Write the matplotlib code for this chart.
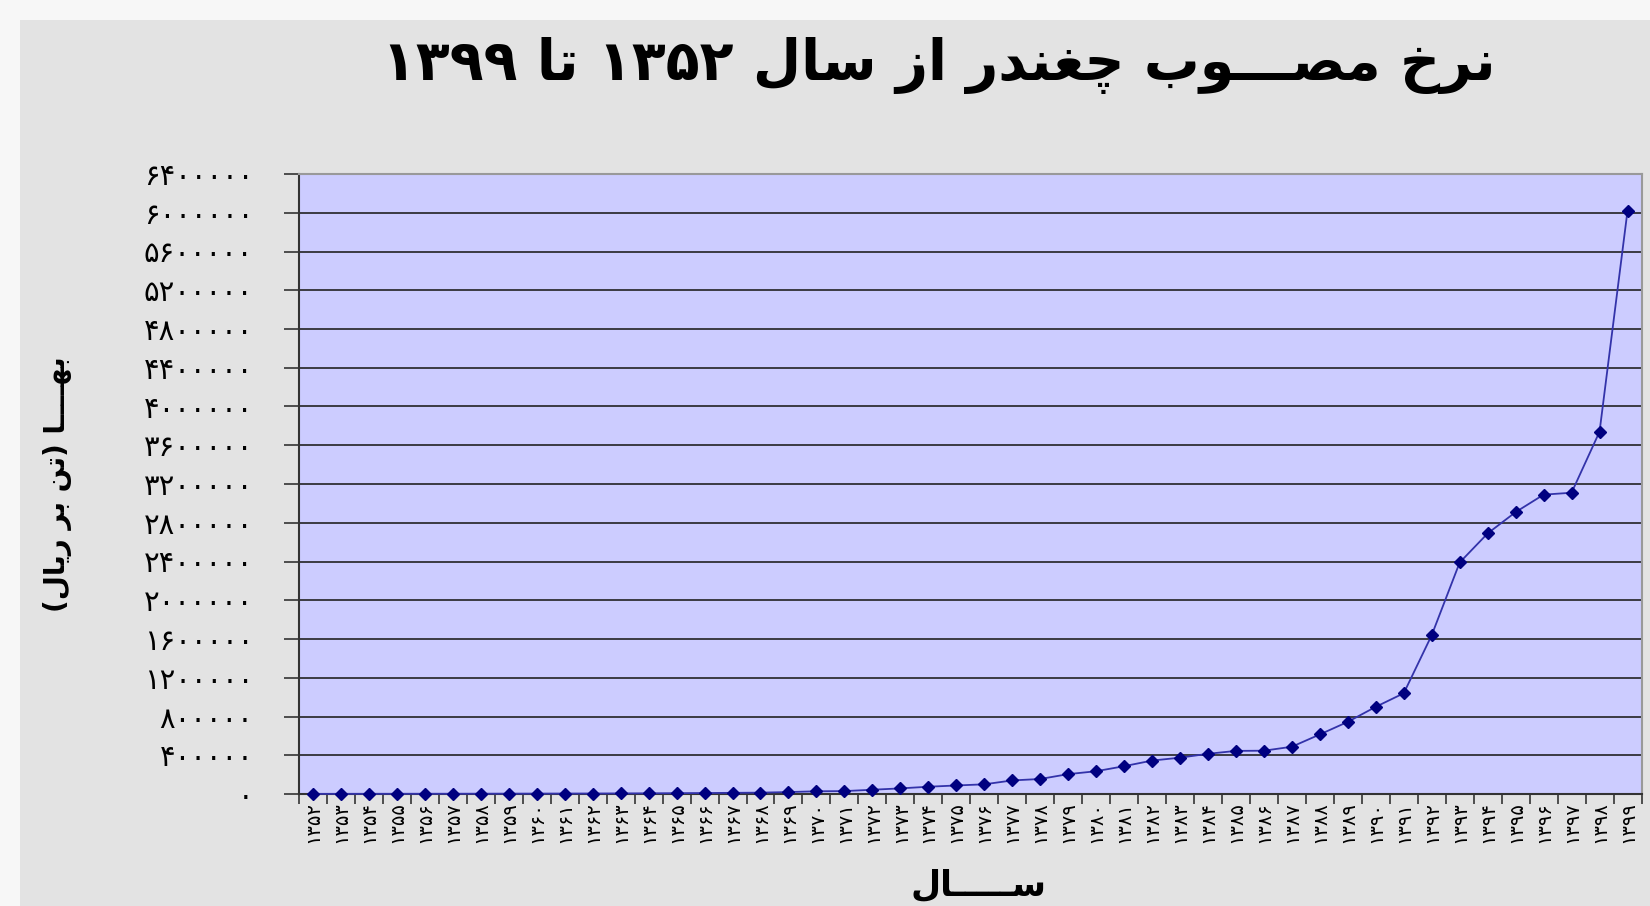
import matplotlib
matplotlib.use('Agg')
import matplotlib.pyplot as plt
from matplotlib.patches import Rectangle
from matplotlib.ticker import FixedLocator

# --- data -----------------------------------------------------------------
years = list(range(1352, 1400))
price = [1200, 1500, 1800, 2000, 2300, 2500, 3000, 3500, 4000, 4500,
         5000, 6000, 7000, 8500, 10000, 12000, 14000, 20000, 28000, 30000,
         44000, 58000, 75000, 88000, 100000, 140000, 155000, 205000, 235000, 287000,
         345000, 375000, 415000, 445000, 447000, 488000, 615000, 745000, 900000, 1040000,
         1640000, 2390000, 2690000, 2910000, 3090000, 3110000, 3740000, 6020000]
yticks = list(range(0, 6400001, 400000))

title_txt = 'نرخ مصـــوب چغندر از سال ۱۳۵۲ تا ۱۳۹۹'
ylabel_txt = 'بهــــا (تن بر ریال)'
xlabel_txt = 'ســـــال'

# --- tiny arabic shaper (matplotlib 3.10 does no shaping / bidi) ----------
# letter: (isolated, final, initial, medial) ; right-joining letters have 2 forms
FORMS = {
    'ا': (0xFE8D, 0xFE8E), 'ب': (0xFE8F, 0xFE90, 0xFE91, 0xFE92),
    'ت': (0xFE95, 0xFE96, 0xFE97, 0xFE98), 'خ': (0xFEA5, 0xFEA6, 0xFEA7, 0xFEA8),
    'د': (0xFEA9, 0xFEAA), 'ر': (0xFEAD, 0xFEAE), 'ز': (0xFEAF, 0xFEB0),
    'س': (0xFEB1, 0xFEB2, 0xFEB3, 0xFEB4), 'ص': (0xFEB9, 0xFEBA, 0xFEBB, 0xFEBC),
    'غ': (0xFECD, 0xFECE, 0xFECF, 0xFED0), 'ل': (0xFEDD, 0xFEDE, 0xFEDF, 0xFEE0),
    'م': (0xFEE1, 0xFEE2, 0xFEE3, 0xFEE4), 'ن': (0xFEE5, 0xFEE6, 0xFEE7, 0xFEE8),
    'ه': (0xFEE9, 0xFEEA, 0xFEEB, 0xFEEC), 'و': (0xFEED, 0xFEEE),
    'چ': (0xFB7A, 0xFB7B, 0xFB7C, 0xFB7D), 'ی': (0xFBFC, 0xFBFD, 0xFBFE, 0xFBFF),
}
TATWEEL = 'ـ'
MIRROR = {'(': ')', ')': '('}


def joins_fwd(c):
    return c == TATWEEL or (c in FORMS and len(FORMS[c]) == 4)


def joins_back(c):
    return c == TATWEEL or c in FORMS


def shape(s):
    out = []
    for i, c in enumerate(s):
        if c not in FORMS:
            out.append(c)
            continue
        prev = s[i - 1] if i > 0 else ''
        nxt = s[i + 1] if i + 1 < len(s) else ''
        p = joins_fwd(prev)
        n = len(FORMS[c]) == 4 and joins_back(nxt)
        f = FORMS[c]
        if p and n:
            out.append(chr(f[3]))
        elif p:
            out.append(chr(f[1]))
        elif n:
            out.append(chr(f[2]))
        else:
            out.append(chr(f[0]))
    return ''.join(out)


def is_digit(c):
    return '۰' <= c <= '۹' or c.isdigit()


def rtl(s):
    s = shape(s)
    runs, cur, cur_d = [], '', None
    for c in s:
        d = is_digit(c)
        if cur and d != cur_d:
            runs.append((cur, cur_d))
            cur = ''
        cur += c
        cur_d = d
    if cur:
        runs.append((cur, cur_d))
    res = ''
    for r, d in reversed(runs):
        res += r if d else ''.join(MIRROR.get(c, c) for c in reversed(r))
    return res


def fa_num(v):
    return str(v).translate(str.maketrans('0123456789', '۰۱۲۳۴۵۶۷۸۹'))


# --- figure -----------------------------------------------------------------
fig = plt.figure(figsize=(16.5, 9.06), dpi=100)
fig.patch.set_facecolor('#f7f7f7')
fig.patches.append(Rectangle((20 / 1650, 0), 1, 1 - 20 / 906, transform=fig.transFigure,
                             facecolor='#e3e3e3', edgecolor='none', zorder=-5))

ax = fig.add_axes([299 / 1650, 1 - 794 / 906, (1641.5 - 299) / 1650, (794 - 174) / 906])
ax.set_facecolor('#ccccff')

x = list(range(len(years)))
ax.plot(x, price, color='#3333aa', lw=1.3, marker='D', ms=6.5,
        mfc='#000080', mec='#000080', zorder=3, clip_on=False)

ax.set_xlim(-0.5, len(years) - 0.5)
ax.set_ylim(0, 6400000)
ax.set_yticks(yticks)
ax.set_yticklabels([fa_num(v) for v in yticks], fontsize=21, family='DejaVu Sans')
ax.yaxis.grid(True, color='#222222', lw=1.2)
ax.set_axisbelow(True)

ax.xaxis.set_major_locator(FixedLocator([i - 0.5 for i in range(len(years) + 1)]))
ax.xaxis.set_minor_locator(FixedLocator(x))
ax.set_xticklabels([], minor=False)
ax.set_xticklabels([fa_num(y) for y in years], minor=True, rotation=90,
                   fontsize=14, family='DejaVu Sans')
ax.tick_params(axis='x', which='major', length=7, width=1.2, color='#333333', direction='out')
ax.tick_params(axis='x', which='minor', length=0, pad=5)
ax.tick_params(axis='y', length=11, width=1.2, color='#333333', pad=22)

for side in ['left', 'bottom']:
    ax.spines[side].set_color('#333333')
    ax.spines[side].set_linewidth(1.5)
for side in ['top', 'right']:
    ax.spines[side].set_color('#999999')
    ax.spines[side].set_linewidth(1.5)

fig.text(939 / 1650, 1 - 66 / 906, rtl(title_txt), ha='center', va='center',
         fontsize=40, fontweight='bold', family='DejaVu Sans')
fig.text(58 / 1650, 1 - 484 / 906, rtl(ylabel_txt), ha='center', va='center',
         rotation=90, fontsize=20, fontweight='bold', family='DejaVu Sans')
fig.text(978 / 1650, 3 / 906, rtl(xlabel_txt), ha='center', va='bottom',
         fontsize=25, fontweight='bold', family='DejaVu Sans')

fig.savefig('out.png', dpi=100, facecolor=fig.get_facecolor())
